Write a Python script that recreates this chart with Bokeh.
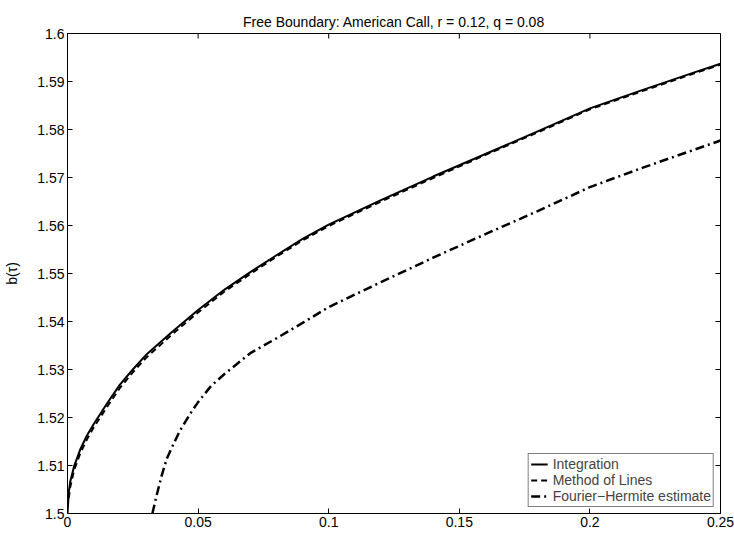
import math
from bokeh.plotting import figure
from bokeh.models import Range1d, FixedTicker, LinearAxis, Label
from bokeh.embed import file_html
from bokeh.resources import INLINE

# ---- data ----
tau_int = [0, 0.0005, 0.001, 0.0025, 0.005, 0.0075, 0.01, 0.015, 0.02, 0.025, 0.03,
           0.04, 0.05, 0.06, 0.07, 0.08, 0.09, 0.10, 0.12, 0.14, 0.16, 0.18, 0.20,
           0.22, 0.24, 0.25]
b_int = [1.5000, 1.5045, 1.5065, 1.5098, 1.5135, 1.5163, 1.5186, 1.5228, 1.5268,
         1.5300, 1.5330, 1.5378, 1.5424, 1.5466, 1.5503, 1.5538, 1.5572, 1.5602,
         1.5653, 1.5702, 1.5749, 1.5796, 1.5844, 1.5882, 1.5919, 1.5937]

tau_mol = [0.0005, 0.001, 0.0025, 0.005, 0.0075, 0.01, 0.015, 0.02, 0.025, 0.03,
           0.04, 0.05, 0.06, 0.07, 0.08, 0.09, 0.10, 0.12, 0.14, 0.16, 0.18, 0.20,
           0.22, 0.24, 0.25]
b_mol = [1.5032, 1.5054, 1.5090, 1.5127, 1.5155, 1.5179, 1.5221, 1.5261, 1.5294,
         1.5324, 1.5373, 1.5419, 1.5462, 1.5499, 1.5535, 1.5569, 1.5599, 1.5650,
         1.5699, 1.5747, 1.5794, 1.5842, 1.5880, 1.5917, 1.5935]

tau_fh = [0.0325, 0.034, 0.036, 0.038, 0.040, 0.043, 0.047, 0.050, 0.055, 0.060,
          0.070, 0.080, 0.090, 0.100, 0.120, 0.140, 0.160, 0.180, 0.200, 0.220,
          0.240, 0.250]
b_fh = [1.5000, 1.5035, 1.5078, 1.5114, 1.5138, 1.5172, 1.5208, 1.5232, 1.5266,
        1.5290, 1.5334, 1.5365, 1.5397, 1.5430, 1.5482, 1.5533, 1.5582, 1.5630,
        1.5680, 1.5720, 1.5758, 1.5777]

x_ticks = [0, 0.05, 0.10, 0.15, 0.20, 0.25]
x_tick_labels = ["0", "0.05", "0.1", "0.15", "0.2", "0.25"]
y_ticks = [1.50, 1.51, 1.52, 1.53, 1.54, 1.55, 1.56, 1.57, 1.58, 1.59, 1.60]
y_tick_labels = ["1.5", "1.51", "1.52", "1.53", "1.54", "1.55", "1.56", "1.57",
                 "1.58", "1.59", "1.6"]

title_text = "Free Boundary: American Call, r = 0.12, q = 0.08"
x_label = "\u03c4"
y_label = "b(\u03c4)"
series_names = ["Integration", "Method of Lines", "Fourier\u2212Hermite estimate"]

FONT = "Liberation Sans"
X0, X1 = 0, 0.25
Y0, Y1 = 1.5, 1.6

p = figure(width=734, height=544, output_backend="svg", toolbar_location=None,
           x_range=Range1d(X0, X1), y_range=Range1d(Y0, Y1),
           min_border_left=67, min_border_right=14, min_border_top=33,
           min_border_bottom=31, x_axis_type=None, y_axis_type=None)

p.title.text = title_text
p.title.align = "center"
p.title.text_font = FONT
p.title.text_font_size = "14px"
p.title.text_font_style = "normal"
p.title.text_color = "black"
p.title.vertical_align = "top"
p.title.standoff = 4

p.outline_line_color = "black"
p.outline_line_width = 1
p.background_fill_color = "white"
p.border_fill_color = "white"

def make_axis(ticks, labels):
    ax = LinearAxis(ticker=FixedTicker(ticks=ticks))
    ax.major_label_overrides = {t: l for t, l in zip(ticks, labels)}
    ax.major_tick_in = 5
    ax.major_tick_out = 0
    ax.minor_tick_in = 0
    ax.minor_tick_out = 0
    ax.axis_line_color = "black"
    ax.major_tick_line_color = "black"
    ax.major_label_text_font = FONT
    ax.major_label_text_font_size = "14px"
    ax.major_label_text_color = "black"
    ax.major_label_standoff = 3
    return ax

xb = make_axis(x_ticks, x_tick_labels)
yl = make_axis(y_ticks, y_tick_labels)
yl.axis_label = y_label
yl.axis_label_text_font = FONT
yl.axis_label_text_font_size = "14px"
yl.axis_label_text_font_style = "normal"
yl.axis_label_text_color = "black"
yl.axis_label_standoff = 14
p.add_layout(xb, "below")
p.add_layout(yl, "left")

# inward ticks on the top and right edges (box on), clipped to the frame
p.scatter(x_ticks, [Y1] * len(x_ticks), marker="dash", angle=math.pi / 2, size=10,
          line_color="black", line_width=1)
p.scatter([X1] * len(y_ticks), y_ticks, marker="dash", size=10,
          line_color="black", line_width=1)

p.line(tau_int, b_int, line_color="black", line_width=2, legend_label=series_names[0])
p.line(tau_mol, b_mol, line_color="black", line_width=2, line_dash="6 4",
       legend_label=series_names[1])
p.line(tau_fh, b_fh, line_color="black", line_width=2.5, line_dash="9 4 2 4",
       legend_label=series_names[2])

p.add_layout(Label(x=(X0 + X1) / 2, y=1.4947, text=x_label, text_align="center",
                   text_baseline="middle", text_font=FONT,
                   text_font_size="14px", text_color="black"))

lg = p.legend[0]
lg.location = "bottom_right"
lg.margin = 6
lg.padding = 2
lg.spacing = 0
lg.label_height = 12
lg.glyph_height = 12
lg.glyph_width = 17
lg.label_standoff = 5
lg.label_text_font = FONT
lg.label_text_font_size = "14px"
lg.label_text_line_height = 0.85
lg.border_line_color = "black"
lg.border_line_width = 1
lg.background_fill_alpha = 1

open("out.html", "w").write(file_html(p, INLINE))
